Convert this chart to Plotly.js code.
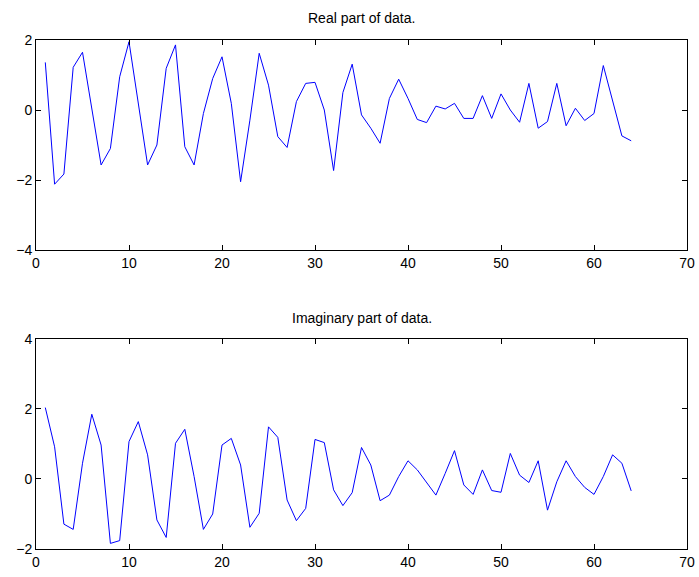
<!DOCTYPE html>
<html>
<head>
<meta charset="utf-8">
<script src="https://cdn.plot.ly/plotly-3.0.1.min.js"></script>
<style>html,body{margin:0;padding:0;background:#fff;}</style>
</head>
<body>
<div id="chart" style="width:699px;height:577px;"></div>
<script>
const sampleIndex = Array.from({length: 64}, (_, k) => k + 1);
const realPart = [
  1.36, -2.12, -1.83, 1.22, 1.65, 0.1, -1.57, -1.1, 0.95, 1.95,
  0.2, -1.57, -1.0, 1.19, 1.86, -1.05, -1.57, -0.1, 0.9, 1.52,
  0.19, -2.05, -0.29, 1.62, 0.71, -0.76, -1.07, 0.24, 0.76, 0.79,
  0.0, -1.73, 0.5, 1.31, -0.14, -0.52, -0.95, 0.33, 0.88, 0.33,
  -0.27, -0.36, 0.11, 0.03, 0.19, -0.24, -0.24, 0.41, -0.24, 0.46,
  0.0, -0.35, 0.76, -0.52, -0.33, 0.76, -0.45, 0.05, -0.3, -0.1,
  1.27, 0.24, -0.74, -0.88
];
const imagPart = [
  2.04, 0.92, -1.29, -1.44, 0.45, 1.85, 0.97, -1.84, -1.76, 1.07,
  1.64, 0.69, -1.17, -1.67, 1.02, 1.42, 0.07, -1.44, -1.0, 0.97,
  1.16, 0.4, -1.38, -0.98, 1.49, 1.19, -0.6, -1.19, -0.84, 1.13,
  1.04, -0.31, -0.76, -0.39, 0.9, 0.4, -0.62, -0.46, 0.07, 0.52,
  0.26, -0.1, -0.46, 0.16, 0.81, -0.17, -0.44, 0.26, -0.33, -0.38,
  0.73, 0.11, -0.1, 0.52, -0.89, -0.08, 0.52, 0.07, -0.24, -0.44,
  0.07, 0.69, 0.45, -0.34
];
const xTicks = [0, 10, 20, 30, 40, 50, 60, 70];
const yTicksReal = [-4, -2, 0, 2];
const yTicksImag = [-2, 0, 2, 4];

const lineStyle = {color: 'rgb(0,0,255)', width: 1};
const axisBase = {
  showgrid: false, zeroline: false, showline: true, linecolor: '#000', linewidth: 1,
  mirror: 'allticks', ticks: 'inside', ticklen: 5, tickcolor: '#000',
  tickfont: {family: 'Liberation Sans, Arial, sans-serif', size: 14, color: '#000'}
};
const data = [
  {x: sampleIndex, y: realPart, type: 'scatter', mode: 'lines', line: lineStyle, xaxis: 'x', yaxis: 'y'},
  {x: sampleIndex, y: imagPart, type: 'scatter', mode: 'lines', line: lineStyle, xaxis: 'x2', yaxis: 'y2'}
];
const layout = {
  width: 699, height: 577,
  margin: {l: 36, r: 12, t: 40, b: 28},
  paper_bgcolor: '#fff', plot_bgcolor: '#fff',
  showlegend: false,
  xaxis: Object.assign({}, axisBase, {domain: [0, 1], range: [0, 70], tickvals: xTicks, anchor: 'y'}),
  yaxis: Object.assign({}, axisBase, {domain: [0.5874, 1], range: [-4, 2], tickvals: yTicksReal, anchor: 'x'}),
  xaxis2: Object.assign({}, axisBase, {domain: [0, 1], range: [0, 70], tickvals: xTicks, anchor: 'y2'}),
  yaxis2: Object.assign({}, axisBase, {domain: [0, 0.4126], range: [-2, 4], tickvals: yTicksImag, anchor: 'x2'}),
  annotations: [
    {text: 'Real part of data.', xref: 'paper', yref: 'paper', x: 0.5, y: 1, yanchor: 'middle', yshift: 22, showarrow: false,
     font: {family: 'Liberation Sans, Arial, sans-serif', size: 14, color: '#000'}},
    {text: 'Imaginary part of data.', xref: 'paper', yref: 'paper', x: 0.5, y: 0.4126, yanchor: 'middle', yshift: 21, showarrow: false,
     font: {family: 'Liberation Sans, Arial, sans-serif', size: 14, color: '#000'}}
  ]
};
Plotly.newPlot('chart', data, layout, {displayModeBar: false, staticPlot: true});
</script>
</body>
</html>
